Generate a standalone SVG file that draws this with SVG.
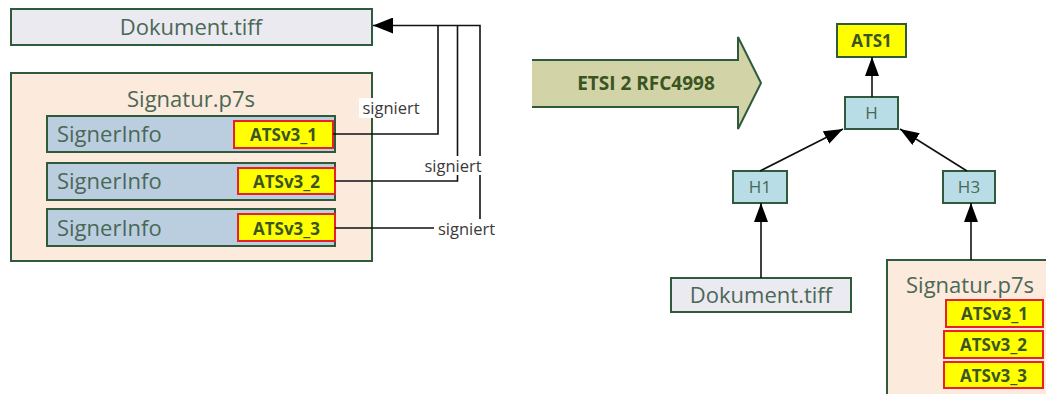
<svg xmlns="http://www.w3.org/2000/svg" width="1046" height="394" viewBox="0 0 1046 394">
<defs>
<style>
.box{stroke:#2F5A3C;stroke-width:2}
.doc{fill:#ECEAF1}
.sig{fill:#FCEADC}
.si{fill:#BACEE0}
.hb{fill:#B8DDE7}
.ats{fill:#FFFF00;stroke:#E8202A;stroke-width:2}
.ats1{fill:#FFFF00;stroke:#2F5A3C;stroke-width:2}
.t{font-family:"Open Sans","Liberation Sans",sans-serif;fill:#4A6856;dominant-baseline:central}
.big{font-size:22px}
.sm{font-size:17px}
.b{font-family:"Open Sans","Liberation Sans",sans-serif;font-weight:bold;fill:#3A5522;font-size:17px;dominant-baseline:central}
.lbl{font-family:"Open Sans","Liberation Sans",sans-serif;fill:#3A3A3A;font-size:16.5px;dominant-baseline:central}
.ln{fill:none;stroke:#111;stroke-width:1.6}
</style>
<marker id="ah" markerUnits="userSpaceOnUse" markerWidth="20" markerHeight="16" refX="20" refY="8" orient="auto">
<path d="M0,0 L20,8 L0,16 z" fill="#000"/>
</marker>
<marker id="ah2" markerUnits="userSpaceOnUse" markerWidth="19" markerHeight="14" refX="19" refY="7" orient="auto">
<path d="M0,0 L19,7 L0,14 z" fill="#000"/>
</marker>
</defs>

<!-- Left side -->
<g id="doc-left">
<rect class="box doc" x="11" y="9" width="361" height="36"/>
<text class="t big" x="191" y="26" text-anchor="middle">Dokument.tiff</text>
</g>
<g id="sig-left">
<rect class="box sig" x="11" y="73" width="361" height="188"/>
<text class="t big" x="191" y="98" text-anchor="middle">Signatur.p7s</text>
</g>
<g id="si1">
<rect class="box si" x="47" y="116" width="288" height="36"/>
<text class="t big" x="57" y="133">SignerInfo</text>
<rect class="ats" x="234" y="121" width="99" height="27"/>
<text class="b" x="283.5" y="134" text-anchor="middle">ATSv3_1</text>
</g>
<g id="si2">
<rect class="box si" x="47" y="163" width="288" height="37"/>
<text class="t big" x="57" y="180">SignerInfo</text>
<rect class="ats" x="238" y="168" width="97" height="26"/>
<text class="b" x="286.5" y="181" text-anchor="middle">ATSv3_2</text>
</g>
<g id="si3">
<rect class="box si" x="47" y="209" width="288" height="37"/>
<text class="t big" x="57" y="227">SignerInfo</text>
<rect class="ats" x="238" y="214" width="97" height="27"/>
<text class="b" x="286.5" y="228" text-anchor="middle">ATSv3_3</text>
</g>

<!-- Big arrow -->
<g id="transform-arrow">
<polygon points="532,60 738,60 738,37 761,83 738,129 738,107 532,107" fill="#D2D3A7"/>
<path d="M532,60 H738 V37 L761,83 L738,129 V107 H532" fill="none" stroke="#2F5A3C" stroke-width="2"/>
<text class="b" x="646" y="83" text-anchor="middle" style="font-size:19px">ETSI 2 RFC4998</text>
</g>

<!-- Right side -->
<g id="ats1">
<rect class="ats1" x="837" y="24" width="69" height="33"/>
<text class="b" x="871.5" y="40" text-anchor="middle">ATS1</text>
</g>
<g id="h">
<rect class="box hb" x="845" y="97" width="53" height="32"/>
<text class="t sm" x="871.5" y="112" text-anchor="middle">H</text>
</g>
<g id="h1">
<rect class="box hb" x="733" y="171" width="54" height="32"/>
<text class="t sm" x="760" y="186" text-anchor="middle">H1</text>
</g>
<g id="h3">
<rect class="box hb" x="943" y="171" width="52" height="32"/>
<text class="t sm" x="969" y="186" text-anchor="middle">H3</text>
</g>
<g id="doc-right">
<rect class="box doc" x="671" y="278" width="180" height="34"/>
<text class="t big" x="761" y="294" text-anchor="middle">Dokument.tiff</text>
</g>
<g id="sig-right">
<rect class="box sig" x="887" y="260" width="170" height="140"/>
<text class="t big" x="970" y="284" text-anchor="middle">Signatur.p7s</text>
<rect class="ats" x="946" y="300" width="97" height="27"/>
<text class="b" x="994.5" y="313" text-anchor="middle">ATSv3_1</text>
<rect class="ats" x="944" y="331" width="99" height="27"/>
<text class="b" x="993.5" y="344" text-anchor="middle">ATSv3_2</text>
<rect class="ats" x="944" y="362" width="99" height="26"/>
<text class="b" x="993.5" y="375" text-anchor="middle">ATSv3_3</text>
</g>

<!-- Connectors -->
<g id="connectors">
<path class="ln" d="M333,134 H438 V25.5"/>
<path class="ln" d="M335,181 H457.5 V25.5"/>
<path class="ln" d="M335,228 H480 V25.5 H373" marker-end="url(#ah)"/>
<path class="ln" d="M872,97 V57" marker-end="url(#ah2)"/>
<path class="ln" d="M760,171 L843,129" marker-end="url(#ah2)"/>
<path class="ln" d="M967,171 L900,129" marker-end="url(#ah2)"/>
<path class="ln" d="M761,278 V203" marker-end="url(#ah2)"/>
<path class="ln" d="M971,260 V203" marker-end="url(#ah2)"/>
<g id="labels">
<rect x="359" y="98" width="64" height="20" fill="#fff"/>
<text class="lbl" x="391" y="107.5" text-anchor="middle">signiert</text>
<rect x="421" y="156" width="64" height="19" fill="#fff"/>
<text class="lbl" x="453" y="165.5" text-anchor="middle">signiert</text>
<rect x="434" y="219" width="65" height="19" fill="#fff"/>
<text class="lbl" x="466.5" y="228" text-anchor="middle">signiert</text>
</g>
</g>
</svg>
